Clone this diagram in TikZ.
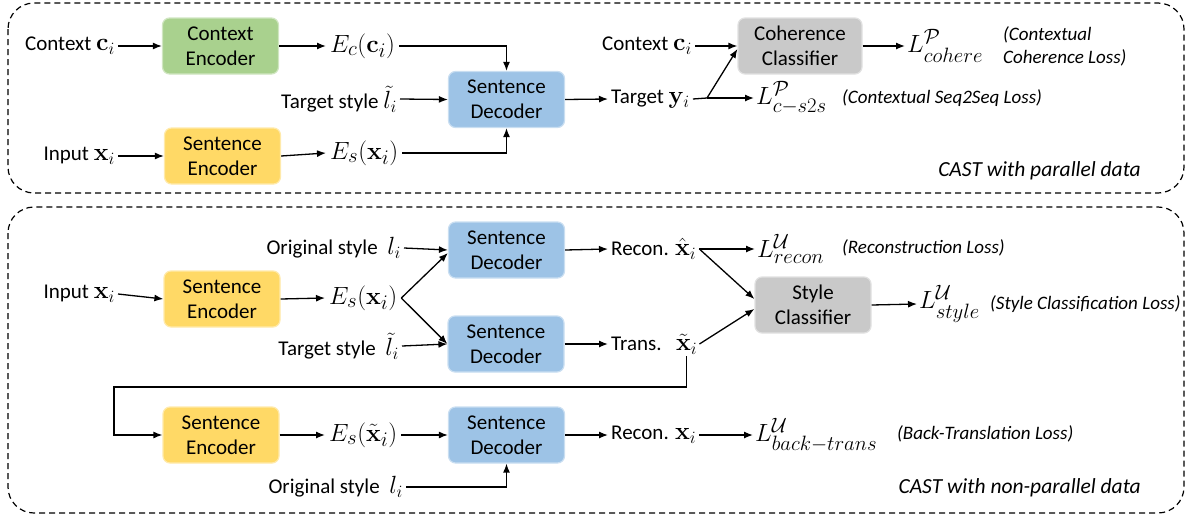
\documentclass[tikz,border=0pt]{standalone}
\usepackage[no-math]{fontspec}
\setmainfont{Carlito}
\usepackage{amsmath}
\usetikzlibrary{arrows.meta}
\DeclareMathSizes{29}{29}{22}{16}
\DeclareMathSizes{26}{26}{19}{14}
\definecolor{cgreen}{HTML}{A9D18E}
\definecolor{cyellow}{HTML}{FFD966}
\definecolor{cblue}{HTML}{9DC3E6}
\definecolor{cgray}{HTML}{C9C9C9}
\newcommand\mymath[1]{{\fontsize{29}{32}\selectfont$#1$}}
\newcommand\lblmath[1]{{\fontsize{26}{28}\selectfont$#1$}}
\tikzset{
  box/.style={rounded corners=7pt, minimum width=116pt, minimum height=56pt, align=center,
    inner sep=0pt, font=\fontsize{21}{25}\selectfont, line width=1.2pt},
  encbox/.style={box, fill=cyellow, draw=cyellow!55!white},
  ctxbox/.style={box, fill=cgreen, draw=cgreen!55!white},
  decbox/.style={box, fill=cblue, draw=cblue!55!white},
  clsbox/.style={box, fill=cgray, draw=cgray!55!white},
  lbl/.style={inner sep=3pt, font=\fontsize{21}{25}\selectfont},
  note/.style={inner sep=0pt, align=left, font=\fontsize{19}{23}\selectfont\itshape},
  captxt/.style={inner sep=0pt, font=\fontsize{21.5}{25}\selectfont\itshape},
  arr/.style={line width=1.3pt, -{Latex[length=9pt,width=7pt]}},
  ln/.style={line width=1.3pt},
  frame/.style={dashed, dash pattern=on 6pt off 4pt, line width=1.2pt, rounded corners=26pt}
}
\begin{document}
\begin{tikzpicture}[x=1pt,y=-1pt]
\useasboundingbox (0,0) rectangle (1194,517);
% frames
\draw[frame] (8,3) rectangle (1184,193);
\draw[frame] (8,207) rectangle (1184,513);

% ---------- top panel ----------
\node[ctxbox] (ctxE) at (220.5,46) {Context\\Encoder};
\node[encbox] (sencT) at (222.5,156) {Sentence\\Encoder};
\node[decbox] (decT) at (506.5,99.5) {Sentence\\Decoder};
\node[clsbox, minimum width=124pt, minimum height=56pt] (cohC) at (800,46) {Coherence\\Classifier};

\node[lbl, anchor=east] (lctx) at (118,46) {Context \lblmath{\mathbf{c}_i}};
\node[lbl, anchor=west, inner sep=4pt] (Ec) at (326,46) {\mymath{E_c(\mathbf{c}_i)}};
\node[lbl, anchor=east] (lts) at (400,99) {Target style \lblmath{\tilde{l}_i}};
\node[lbl, anchor=east] (lin) at (118,156) {Input \lblmath{\mathbf{x}_i}};
\node[lbl, anchor=west, inner sep=4pt] (Es) at (326,153) {\mymath{E_s(\mathbf{x}_i)}};
\node[lbl, anchor=west] (tgt) at (608,99) {Target \lblmath{\mathbf{y}_i}};
\coordinate (split) at (707,98);
\node[lbl, anchor=east] (lctx2) at (695,46) {Context \lblmath{\mathbf{c}_i}};
\node[lbl, anchor=west, inner sep=2pt] (Lcoh) at (905,46) {\mymath{L^{\mathcal{P}}_{cohere}}};
\node[note, anchor=west] (ncoh) at (1003,46) {(Contextual\\Coherence Loss)};
\node[lbl, anchor=west, inner sep=2pt] (Lcs) at (754,98) {\mymath{L^{\mathcal{P}}_{c-s2s}}};
\node[note, anchor=west] (ncs) at (842,98) {(Contextual Seq2Seq Loss)};
\node[captxt, anchor=east] (capT) at (1141,171) {CAST with parallel data};

\draw[arr] (lctx.east) -- (ctxE.west);
\draw[arr] (ctxE.east) -- (Ec.west);
\draw[arr] (Ec.east) -| (decT.north);
\draw[arr] (lts.east) -- (decT.west);
\draw[arr] (lin.east) -- (sencT.west);
\draw[arr] (sencT.east) -- (Es.west);
\draw[arr] (Es.east) -| (decT.south);
\draw[arr] (decT.east) -- (tgt.west);
\draw[ln] (tgt.east) -- (split);
\draw[arr] (split) -- ([yshift=-3pt]cohC.west);
\draw[arr] (split) -- (Lcs.west);
\draw[arr] (lctx2.east) -- (cohC.west);
\draw[arr] (cohC.east) -- (Lcoh.west);

% ---------- bottom panel ----------
\node[decbox] (dec1) at (506.5,250) {Sentence\\Decoder};
\node[encbox] (senc2) at (222,299) {Sentence\\Encoder};
\node[decbox] (dec2) at (506,344) {Sentence\\Decoder};
\node[clsbox] (styC) at (813,305) {Style\\Classifier};
\node[encbox] (senc3) at (221,435) {Sentence\\Encoder};
\node[decbox] (dec3) at (506.5,435) {Sentence\\Decoder};

\node[lbl, anchor=east] (los1) at (404,248) {Original style \ \lblmath{l_i}};
\node[lbl, anchor=east] (lin2) at (118,294) {Input \lblmath{\mathbf{x}_i}};
\node[lbl, anchor=west, inner sep=4pt] (Es2) at (325,298) {\mymath{E_s(\mathbf{x}_i)}};
\node[lbl, anchor=east] (lts2) at (402,346) {Target style \ \lblmath{\tilde{l}_i}};
\node[lbl, anchor=west] (rec) at (608,249) {Recon. \lblmath{\hat{\mathbf{x}}_i}};
\node[lbl, anchor=west] (trT) at (608,344) {Trans.};
\node[lbl, anchor=west, inner sep=2pt] (trM) at (674,344) {\lblmath{\tilde{\mathbf{x}}_i}};
\coordinate (fb) at (114,387);
\node[lbl, anchor=west, inner sep=2pt] (Lrec) at (755,249) {\mymath{L^{\mathcal{U}}_{recon}}};
\node[note, anchor=west] (nrec) at (842,248) {(Reconstruction Loss)};
\node[lbl, anchor=west, inner sep=2pt] (Lsty) at (917,304) {\mymath{L^{\mathcal{U}}_{style}}};
\node[note, anchor=west] (nsty) at (990,304) {(Style Classification Loss)};
\node[lbl, anchor=west, inner sep=4pt] (Es3) at (325,435) {\mymath{E_s(\tilde{\mathbf{x}}_i)}};
\node[lbl, anchor=east] (los3) at (406,487) {Original style \ \lblmath{l_i}};
\node[lbl, anchor=west] (rec2) at (608,435) {Recon. \lblmath{\mathbf{x}_i}};
\node[lbl, anchor=west, inner sep=2pt] (Lbt) at (753,435) {\mymath{L^{\mathcal{U}}_{back-trans}}};
\node[note, anchor=west] (nbt) at (897,434) {(Back-Translation Loss)};
\node[captxt, anchor=east] (capB) at (1141,488) {CAST with non-parallel data};

\draw[arr] (los1.east) -- (dec1.west);
\draw[arr] (lin2.east) -- (senc2.west);
\draw[arr] (senc2.east) -- (Es2.west);
\draw[arr] (Es2.east) -- ([yshift=-3pt]dec1.west);
\draw[arr] (Es2.east) -- (dec2.west);
\draw[arr] (lts2.east) -- (dec2.west);
\draw[arr] (dec1.east) -- (rec.west);
\draw[arr] (dec2.east) -- (trT.west);
\draw[arr] (rec.east) -- (Lrec.west);
\draw[arr] (rec.east) -- ([yshift=6pt]styC.west);
\draw[arr] (trM.east) -- ([yshift=-4pt]styC.west);
\draw[arr] (styC.east) -- (Lsty.west);
\draw[arr] (trM.south) |- (fb) |- (senc3.west);
\draw[arr] (senc3.east) -- (Es3.west);
\draw[arr] (Es3.east) -- (dec3.west);
\draw[arr] (los3.east) -| (dec3.south);
\draw[arr] (dec3.east) -- (rec2.west);
\draw[arr] (rec2.east) -- (Lbt.west);
\end{tikzpicture}
\end{document}
